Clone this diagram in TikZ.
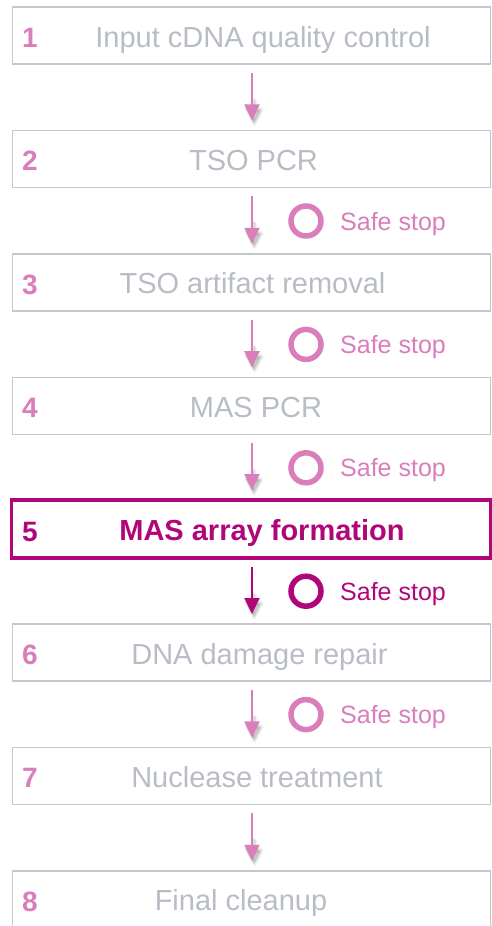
\documentclass[tikz,border=0pt]{standalone}
\usepackage{fontspec}
\setmainfont{Liberation Sans}
\usetikzlibrary{arrows.meta}
\definecolor{pk}{RGB}{217,125,187}
\definecolor{mg}{RGB}{176,6,122}
\definecolor{gtx}{RGB}{184,188,197}
\definecolor{gbd}{RGB}{196,199,205}
\tikzset{
  stepbox/.style={draw=gbd, line width=1.4pt, rectangle, minimum width=478pt, minimum height=57pt, inner sep=0pt, outer sep=0pt},
  hibox/.style={draw=mg, line width=3.5pt, rectangle, minimum width=479pt, minimum height=58pt, inner sep=0pt, outer sep=0pt},
  numtxt/.style={font=\bfseries\fontsize{28}{29}\selectfont, text=pk, anchor=base west, inner sep=0pt},
  lbltxt/.style={font=\fontsize{29}{30}\selectfont, text=gtx, anchor=base, inner sep=0pt},
  arr/.style={draw=pk, line width=2pt, -{Triangle[length=16pt,width=15pt]}, shorten <=9pt, shorten >=10pt},
  arrsh/.style={draw=black, opacity=0.06, line width=3pt, -{Triangle[length=17pt,width=17pt]}, shorten <=32pt, shorten >=8pt},
  ring/.style={circle, draw=pk, line width=5.5pt, minimum size=30pt, inner sep=0pt},
  safetxt/.style={font=\fontsize{25}{26}\selectfont, text=pk, anchor=base west, inner sep=0pt},
}
\begin{document}
\begin{tikzpicture}[x=1pt,y=-1pt]
\useasboundingbox (0,0) rectangle (492,926);
\clip (0,0) rectangle (492,926);
% boxes
\node[stepbox] (b1) at (251.5,35.5) {};
\node[stepbox] (b2) at (251.5,158.9) {};
\node[stepbox] (b3) at (251.5,282.3) {};
\node[stepbox] (b4) at (251.5,405.7) {};
\node[stepbox] (b6) at (251.5,652.5) {};
\node[stepbox] (b7) at (251.5,775.9) {};
\node[stepbox] (b8) at (251.5,899.3) {};
% numbers
\node[numtxt] (n1) at (22,47.5) {1};
\node[numtxt] (n2) at (22,170.9) {2};
\node[numtxt] (n3) at (22,294.3) {3};
\node[numtxt] (n4) at (22,417.7) {4};
\node[numtxt, text=mg] (n5) at (22,541.1) {5};
\node[numtxt] (n6) at (22,664.5) {6};
\node[numtxt] (n7) at (22,787.9) {7};
\node[numtxt] (n8) at (22,911.3) {8};
% labels
\node[lbltxt] (l1) at (263,47) {Input cDNA quality control};
\node[lbltxt] (l2) at (253.5,170.4) {TSO PCR};
\node[lbltxt] (l3) at (252.5,293.8) {TSO artifact removal};
\node[lbltxt] (l4) at (256,417.2) {MAS PCR};
\node[lbltxt, text=mg, font=\bfseries\fontsize{29}{30}\selectfont] (l5) at (262,540.6) {MAS array formation};
\node[lbltxt] (l6) at (259.5,664) {DNA damage repair};
\node[lbltxt] (l7) at (257,787.4) {Nuclease treatment};
\node[lbltxt] (l8) at (241,910.8) {Final cleanup};
% highlighted box
\node[hibox] (b5) at (251,529.1) {};
% arrow shadows (soft)
\foreach \sx/\sy in {1.5/-2, 2.5/-3, 3.5/-4}{
\begin{scope}[transform canvas={shift={(\sx pt,\sy pt)}}]
\draw[arrsh] (b1.south) -- (b2.north);
\draw[arrsh] (b2.south) -- (b3.north);
\draw[arrsh] (b3.south) -- (b4.north);
\draw[arrsh] (b4.south) -- (b5.north);
\draw[arrsh] (b5.south) -- (b6.north);
\draw[arrsh] (b6.south) -- (b7.north);
\draw[arrsh] (b7.south) -- (b8.north);
\end{scope}
}
% arrows
\draw[arr] ([xshift=0.5pt]b1.south) -- ([xshift=0.5pt]b2.north);
\draw[arr] ([xshift=0.5pt]b2.south) -- ([xshift=0.5pt]b3.north);
\draw[arr] ([xshift=0.5pt]b3.south) -- ([xshift=0.5pt]b4.north);
\draw[arr] ([xshift=0.5pt]b4.south) -- ([xshift=1pt]b5.north);
\draw[arr, draw=mg] ([xshift=1pt]b5.south) -- ([xshift=0.5pt]b6.north);
\draw[arr] ([xshift=0.5pt]b6.south) -- ([xshift=0.5pt]b7.north);
\draw[arr] ([xshift=0.5pt]b7.south) -- ([xshift=0.5pt]b8.north);
% safe stops
\node[ring] (r2) at (306,221) {};
\node[safetxt] (s2) at (340,230) {Safe stop};
\node[ring] (r3) at (306,344.4) {};
\node[safetxt] (s3) at (340,353.4) {Safe stop};
\node[ring] (r4) at (306,467.8) {};
\node[safetxt] (s4) at (340,476.8) {Safe stop};
\node[ring, draw=mg] (r5) at (306,591.2) {};
\node[safetxt, text=mg] (s5) at (340,600.2) {Safe stop};
\node[ring] (r6) at (306,714.6) {};
\node[safetxt] (s6) at (340,723.6) {Safe stop};
\end{tikzpicture}
\end{document}
